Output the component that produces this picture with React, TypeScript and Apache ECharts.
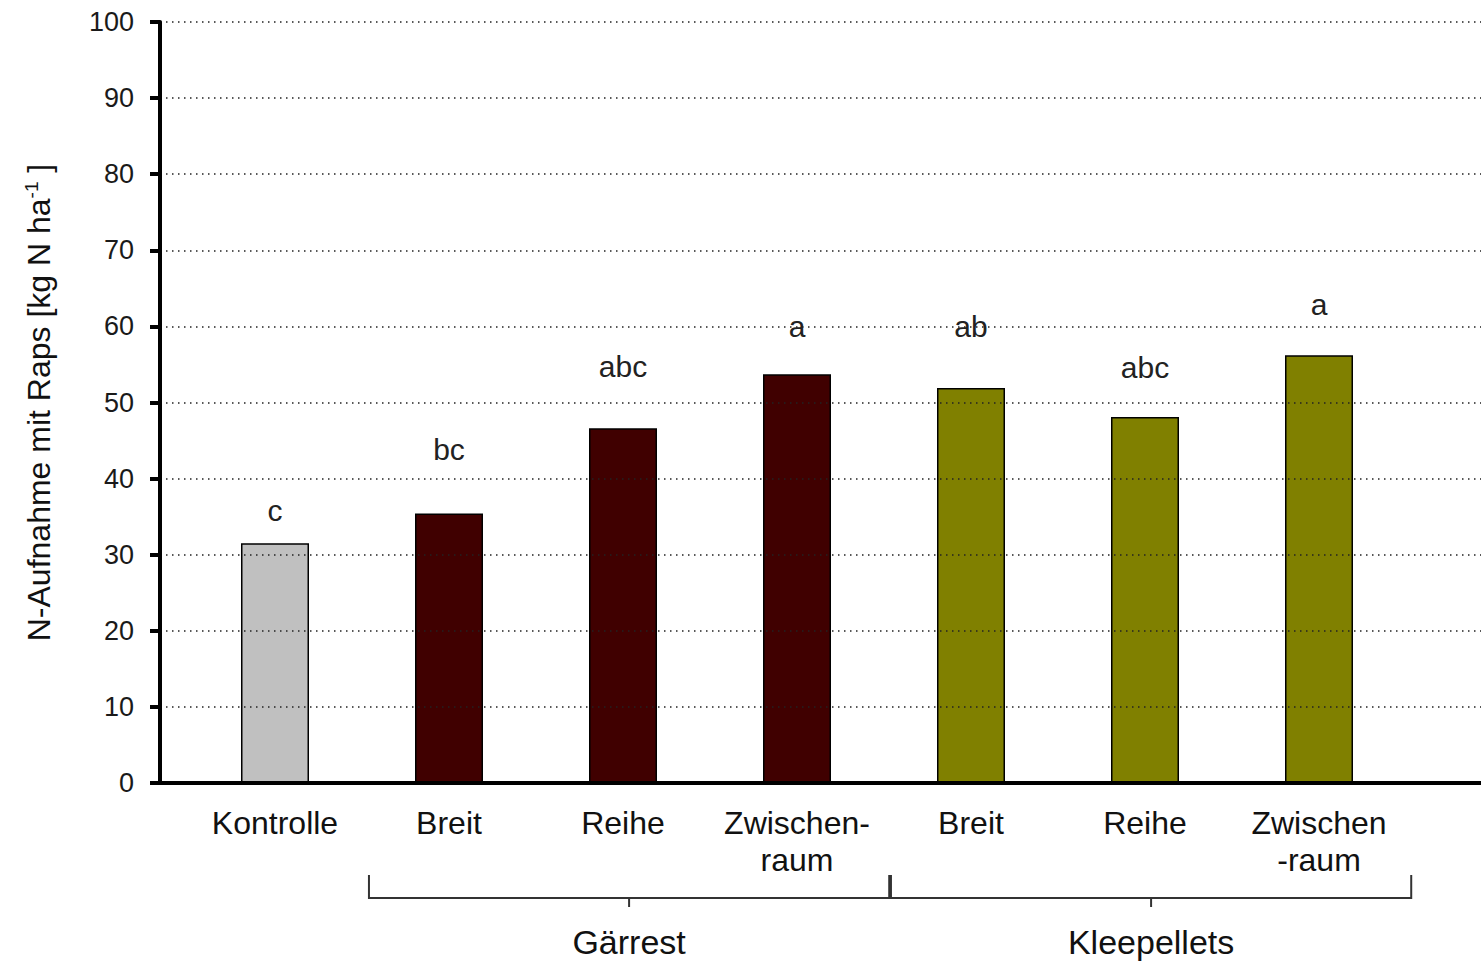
import React, { useEffect, useRef } from "react";
import * as echarts from "echarts";

// Treatments along the x axis
const categories = [
  "Kontrolle",
  "Breit",
  "Reihe",
  "Zwischen-\nraum",
  "Breit",
  "Reihe",
  "Zwischen\n-raum",
];

// N uptake by rapeseed [kg N ha^-1]
const uptake = [31.5, 35.4, 46.6, 53.7, 51.9, 48.1, 56.2];

// Significance letters above each bar
const letters = ["c", "bc", "abc", "a", "ab", "abc", "a"];

// Gap between bar top and its letter (px)
const letterGap = [18, 49, 47, 33, 47, 34, 36];

// Fertiliser group per bar
const groupOf = ["control", "gaerrest", "gaerrest", "gaerrest", "klee", "klee", "klee"];
const groupColors: Record<string, string> = {
  control: "#c0c0c0",
  gaerrest: "#400000",
  klee: "#808000",
};

// Brackets grouping the treatments
const groups = [
  { name: "Gärrest", from: 1, to: 3 },
  { name: "Kleepellets", from: 4, to: 6 },
];

const yTicks = { min: 0, max: 100, interval: 10 };

const FONT = "'Liberation Sans', Arial, sans-serif";

export default function App() {
  const ref = useRef<HTMLDivElement>(null);

  useEffect(() => {
    if (!ref.current) return;
    const chart = echarts.init(ref.current, undefined, { renderer: "svg" });

    const top = 22;
    const bottom = 180;

    chart.setOption({
      animation: false,
      backgroundColor: "#ffffff",
      grid: [
        { left: 160, right: 0, top, bottom },
        { left: 188, right: 75, top, bottom },
      ],
      xAxis: [
        {
          gridIndex: 0,
          type: "value",
          min: 0,
          max: 1,
          z: 5,
          axisLine: { show: true, lineStyle: { color: "#000", width: 4 } },
          axisTick: { show: false },
          axisLabel: { show: false },
          splitLine: { show: false },
        },
        {
          gridIndex: 1,
          type: "category",
          data: categories,
          axisLine: { show: false },
          axisTick: { show: false },
          axisLabel: {
            fontFamily: FONT,
            fontSize: 32,
            lineHeight: 37,
            color: "#111",
            margin: 21,
            interval: 0,
          },
        },
      ],
      yAxis: [
        {
          gridIndex: 0,
          type: "value",
          min: yTicks.min,
          max: yTicks.max,
          interval: yTicks.interval,
          z: 5,
          axisLine: { show: true, lineStyle: { color: "#000", width: 4 } },
          axisTick: { show: true, length: 10, lineStyle: { color: "#000", width: 4 } },
          axisLabel: {
            fontFamily: FONT,
            fontSize: 27,
            color: "#1a1a1a",
            margin: 26,
          },
          splitLine: {
            show: true,
            lineStyle: { color: "#222", width: 1.5, type: [1.5, 4.5] },
          },
          name: "{main|N-Aufnahme mit Raps [kg N ha}{sup|-1}{main| ]}",
          nameLocation: "middle",
          nameRotate: 90,
          nameGap: 104,
          nameTextStyle: {
            rich: {
              main: { fontFamily: FONT, fontSize: 32, color: "#111" },
              sup: {
                fontFamily: FONT,
                fontSize: 19,
                color: "#111",
                padding: [0, 0, 15, 0],
              },
            },
          },
        },
        {
          gridIndex: 1,
          type: "value",
          min: yTicks.min,
          max: yTicks.max,
          show: false,
          splitLine: { show: false },
        },
      ],
      series: [
        {
          type: "bar",
          xAxisIndex: 1,
          yAxisIndex: 1,
          barWidth: 68,
          data: uptake.map((v, i) => ({
            value: v,
            itemStyle: {
              color: groupColors[groupOf[i]],
              borderColor: "#000",
              borderWidth: 1.5,
            },
            label: {
              show: true,
              position: "top",
              distance: letterGap[i],
              formatter: letters[i],
              fontFamily: FONT,
              fontSize: 30,
              color: "#222",
            },
          })),
        },
      ],
    });

    // Group brackets below the category labels
    const px = (i: number) =>
      chart.convertToPixel({ xAxisIndex: 1 }, i) as unknown as number;
    const axisY = chart.convertToPixel({ yAxisIndex: 0 }, 0) as unknown as number;
    const band = px(1) - px(0);
    const graphics: any[] = [];
    const lineStyle = { stroke: "#333", lineWidth: 2, fill: null };
    groups.forEach((g) => {
      const x0 = px(g.from) - 0.46 * band;
      const x1 = px(g.to) + 0.53 * band;
      const mid = (x0 + x1) / 2;
      const yb = axisY + 115;
      graphics.push({
        type: "polyline",
        shape: {
          points: [
            [x0, axisY + 92],
            [x0, yb],
            [x1, yb],
            [x1, axisY + 92],
          ],
        },
        style: lineStyle,
        silent: true,
      });
      graphics.push({
        type: "line",
        shape: { x1: mid, y1: yb, x2: mid, y2: yb + 9 },
        style: lineStyle,
        silent: true,
      });
      graphics.push({
        type: "text",
        x: mid,
        y: axisY + 159,
        style: {
          text: g.name,
          fontFamily: FONT,
          fontSize: 34,
          fill: "#111",
          align: "center",
          verticalAlign: "middle",
        },
        silent: true,
      });
    });
    chart.setOption({ graphic: graphics });

    return () => chart.dispose();
  }, []);

  return (
    <div
      ref={ref}
      style={{ position: "absolute", left: 0, top: 0, width: 1481, height: 963 }}
    />
  );
}
